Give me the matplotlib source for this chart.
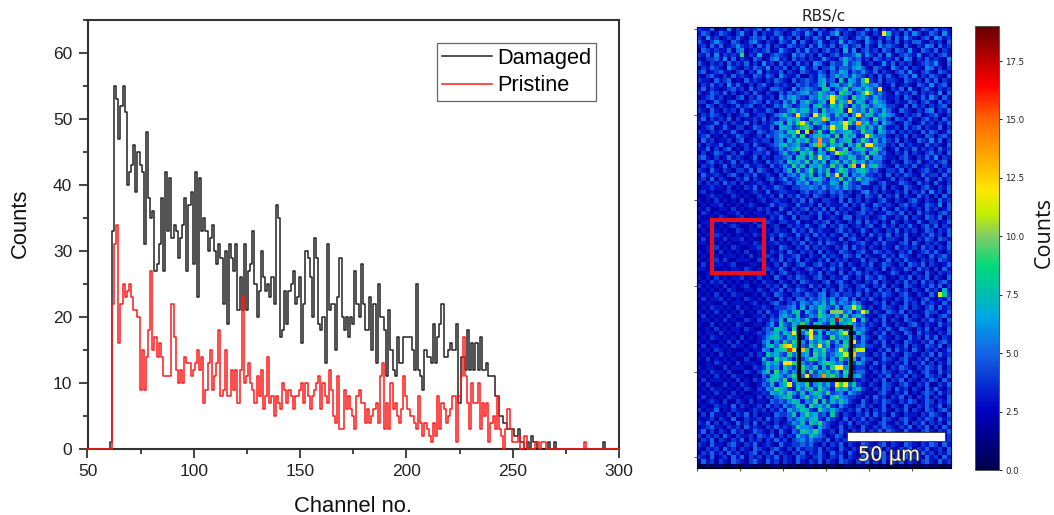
import numpy as np
import matplotlib
matplotlib.use("Agg")
import matplotlib.pyplot as plt
import matplotlib.patheffects as pe
from matplotlib.colors import LinearSegmentedColormap
from matplotlib.patches import Rectangle

FIRST_CHANNEL = 50
damaged_counts = [0]*11 + [1] + [
    33,55,53,47,52,55,51,40,42,43, 46,39,45,43,42,31,48,38,35,36,
    27,28,31,38,27,42,33,41,32,34, 33,29,32,34,38,27,37,39,28,42,
    23,41,33,35,33,30,32,34,30,28, 31,29,22,30,19,31,29,27,31,21,
    26,21,31,21,27,28,33,25,20,24, 30,26,
    24,25,23,26,22,37,35,17,18,24, 19,24,25,27,22,23,26,16,22,30,
    29,26,20,32,29,19,18,20,13,31, 21,22,22,15,23,29,20,18,20,17,
    20,19,27,22,20,28,22,18,18,23, 15,22,13,25,20,20,18,11,21,15,
    12,11,17,13,13,17,17,17,17,15, 12,25,12,11,9,15,14,14,13,19,
    13,17,19,22,14,14,15,16,15,15, 19,7,14,14,12,18,12,16,12,16,
    12,17,12,12,13,11,11,11,8,8, 5,5,4,4,3,3,3,2,2,3,
    1,1,0,1,0,2,1,1,0,0, 0,0,0,1,0,0,1] + [0]*22 + [1] + [0]*7
pristine_counts = [0]*12 + [
    22,31,34,16,22,25,23,24,25,23, 21,21,20,9,15,9,14,18,27,15,
    17,14,16,14,11,11,11,11,22,17, 12,10,12,10,14,13,13,11,12,13,
    15,12,14,7,9,13,15,9,11,13, 18,8,9,15,8,8,12,9,12,7,
    12,23,10,11,13,10,9,7,11,8, 12,6,
    8,14,7,8,5,8,7,6,10,9, 7,9,8,6,8,8,9,10,7,10,
    8,6,8,9,10,11,6,10,8,7, 12,9,5,4,11,3,3,9,6,8,
    6,5,3,8,9,7,7,4,6,4, 5,6,7,4,11,13,3,7,3,10,
    6,7,5,4,6,11,8,6,5,5, 4,3,8,4,2,4,3,2,1,4,
    2,8,3,7,6,4,5,6,8,8, 1,8,11,17,11,7,3,10,7,7,
    10,3,7,5,7,1,4,5,3,8, 3,2,0,3,6,3,1,1,1,2,
    0,0,2,0,0,0,0,1,1,0, 1,1] + [0]*18 + [1] + [0]*16
series_labels = ["Damaged", "Pristine"]
x_ticks = [50, 100, 150, 200, 250, 300]
y_ticks = [0, 10, 20, 30, 40, 50, 60]
cbar_ticks = [0, 2.5, 5, 7.5, 10, 12.5, 15, 17.5]

# Estimated per-pixel counts of the RBS/c map, base-36 digit per cell
map_rows = """
43351 32624 24345 26343 42354 42634 23543 54236 35243 42526 23543 5343
35423 54324 63252 43354 23543 64253 35724 32453 24357 34253 64235 4263
42634 23435 32454 52436 34252 43542 62354 23546 32435 25364 32452 6534
53246 43254 23563 24325 43625 32463 24373 54326 43524 35243 55324 3425
34253 52346 43425 35243 25434 25364 35246 34525 32645 43253 24365 2534
25434 33525 62343 45236 43253 63424 53427 36245 34254 25436 32543 5243
43526 24343 52437 32454 32645 34253 24534 45736 43526 32454 36234 2453
32445 36252 43254 23563 42534 24336 43257 54534 25434 35265 24353 4326
53243 42534 35242 63425 34253 42653 25447 45623 42363 52434 23454 6325
24354 32643 24354 36243 52436 33524 46355 46753 25432 64352 43265 3424
45234 53324 52436 24335 24325 43354 25476 35464 35243 24536 32453 2543
32453 24253 43254 35426 43352 24365 35756 47543 42535 32453 62435 4325
43325 34523 25343 24354 32534 54367 45283 76485 43524 43254 34253 5243
24353 42635 32424 53243 43254 53468 36745 85476 56423 52343 25436 3452
35243 23453 42534 32554 32635 65438 73569 46758 64532 43526 32453 2434
42354 35242 34253 24325 35456 74586 56397 63584 74643 25343 52434 3625
23453 42324 52435 33426 46754 36586 74865 39675 47543 34254 23536 4253
44235 32453 23454 25343 64736 85467 37586 94763 58653 24335 42453 2534
32542 43235 34523 42354 75346 63785 48695 37586 46764 43252 53424 3452
43253 24342 53243 35424 46857 74638 56783 96574 85475 32543 24356 2435
24354 32423 45234 42356 85476 53769 64857 36958 74686 53243 45234 5324
35243 43524 23343 52435 57684 38675 94563 78465 39564 25435 32453 4253
42335 24243 35242 43467 38596 74865 37684 95768 46375 42354 23534 2435
23452 35324 42354 33527 76458 96347 58769 43685 74853 34253 45243 3524
43243 42353 24325 43456 48763 67594 38567 85496 63764 52434 32535 4235
34523 24235 43234 25457 65849 35786 74938 67345 85553 24352 43254 2453
25342 33424 52343 44256 37586 84675 59467 83596 47464 35243 25436 3524
42433 52342 34253 23457 85674 36958 47683 75948 36553 42534 33253 4325
33524 24523 24335 42346 46795 75384 86459 36785 59642 35243 52434 2534
24235 43242 53244 35235 74538 69476 35798 64573 87453 24352 43245 3425
45324 23534 32352 43244 56387 48596 74365 87459 36643 32453 24353 6243
32453 42352 43243 25345 38675 94758 36847 59674 65532 43254 35234 3452
24342 35243 25334 32534 64958 37685 49573 86345 78543 25343 52343 5243
43253 24324 43525 43243 57384 69475 83697 45786 45324 43524 23453 2435
25334 32453 24352 34325 35647 58364 95748 36574 43425 24354 32534 4253
34252 43224 35243 24534 63457 46875 36594 74856 54323 52432 43253 2534
42434 25342 42334 32423 45365 73564 47638 54366 32453 23543 25342 5324
23343 32423 24352 43354 32445 56546 45647 54533 24352 43254 32453 2435
34232 23432 32343 25234 43324 53454 35453 42356 34243 24352 43526 3425
22343 32243 23224 33425 24353 42543 24354 32425 43524 35243 25342 4253
32324 23232 42323 42343 32435 25324 43252 53424 32453 24324 53243 2534
23233 42323 23432 23534 43253 34252 43335 24353 25434 32453 42354 3625
32422 33242 32324 34225 32434 52435 25243 43254 34253 25342 34253 4235
24323 22334 23233 24343 25343 24353 42534 23453 42335 43524 25343 2453
32232 43223 42323 32435 32524 43252 34325 52434 23453 24352 43254 3524
23323 24232 33242 24324 43352 32434 52432 43525 34242 53243 25324 4235
42322 32343 22324 32342 24343 53245 24354 23424 52353 42435 32453 5243
23233 23224 32332 43243 32534 25343 32453 42353 24324 35243 42354 2435
32324 32323 23243 23435 43253 42534 24325 34242 53435 24352 32435 3425
24223 24233 42322 32524 24342 53243 43252 45324 32524 43253 24354 2543
33242 32322 33243 23343 32435 24352 54324 23453 24353 32452 53243 4325
22324 23243 22334 42325 43243 52434 32435 25342 43243 25343 42534 2435
32332 42323 24223 32434 25324 34252 43254 32453 25434 32435 23453 5324
23243 23332 32423 24325 33453 24325 34325 43524 32353 42543 24325 3453
32324 24223 33224 32435 24352 43243 52434 23352 44235 24353 32434 2543
24233 32342 22332 43242 53245 32453 24352 43243 52354 32425 43524 3235
33222 23233 24323 24335 32432 45324 35243 25324 43252 43354 25342 4253
22343 32324 32243 32424 53243 24352 43252 43534 24323 54232 43253 2434
32324 23233 42324 23253 24354 32453 24335 32425 43542 32435 24352 4325
23243 42323 23232 43324 32425 43324 52453 24324 35243 24353 42534 2453
42323 24232 34223 24342 53243 25342 43254 32453 24352 43254 32435 3524
23232 32432 23324 32435 24354 32425 34253 42435 32534 25342 43253 4273
32324 23243 32232 43254 32443 54356 24534 43524 24354 32453 24325 3284
24233 42323 24323 24325 34255 35456 46356 35243 53243 24354 32453 2435
32322 24233 32342 32453 24536 54657 47465 47532 24352 43253 42534 3253
23243 32324 23233 43244 45637 36587 54736 64843 42354 32452 43245 2534
32324 23232 42324 25335 64783 75496 38675 73568 24325 43524 32354 4235
24232 32423 32233 42436 75483 46597 65849 46753 32453 24352 43253 2453
23323 24232 24324 33547 38675 84367 57496 75384 24352 43254 32435 3425
32242 32324 32233 24638 54769 63785 48367 96453 43253 24324 53243 2534
22324 23233 24322 45487 63958 47675 38594 67564 32435 32543 24352 4325
32332 42323 23234 35674 86375 96483 75698 43753 24352 43254 25343 2435
23243 23232 42323 46785 47693 58674 39576 86364 32543 24325 34253 5243
32322 32424 23223 57364 85976 37586 94738 65463 24352 43254 32435 2453
24233 23243 32342 47859 63785 49675 83569 74564 43253 24352 43254 3524
32324 32322 23233 65378 97456 83769 54687 38653 32435 25342 53243 4235
23232 42323 32424 38675 49586 73968 45783 96553 24352 43254 32435 2534
32423 23232 24223 74396 85374 69857 36495 78364 42354 32453 24352 4325
22324 32324 23332 58674 73986 45368 97563 84753 25343 24352 43524 2435
32332 24233 32243 47563 86479 65837 49586 73442 43252 43543 24354 3524
23243 32422 24324 68395 74658 39476 85739 64553 24354 32435 32453 2534
32324 23243 32232 53786 46975 84563 79648 36742 32435 24352 43254 3425
24233 32324 23243 46875 93687 56749 38567 84343 24352 43524 32435 4253
32422 24232 43223 54736 85476 93685 74396 58432 43254 32453 24352 2435
23243 32323 24324 36597 64385 78496 53867 46743 24354 25342 43253 5324
32324 23242 32233 43768 59647 36875 94563 75432 32453 24352 32454 2534
24232 32433 23324 24356 78436 95684 37965 44324 25342 43524 24352 4325
32343 24224 32423 32545 46873 65938 47586 43253 24354 32435 42354 2435
23224 33252 43234 25343 64587 39675 84364 32453 42352 43253 24353 3524
42335 23243 32343 42435 37568 74396 57543 43524 24353 24352 43254 2453
24253 32424 35242 33254 45836 96745 38424 32435 25342 53243 32435 4325
32342 43252 24334 25343 25467 57843 64325 24352 43254 32453 24354 2534
43524 24325 34252 43242 34657 38695 43243 52434 32453 24352 43524 3425
23453 32434 25343 24353 43486 65375 42352 43253 24354 32435 24352 4253
35242 43253 42354 32425 32548 76963 34253 24352 43525 43253 32453 2435
42434 25324 33425 43524 24375 48654 23542 43254 32435 24352 43254 5324
24352 43243 52434 24353 42456 46443 52434 25342 53243 62435 32453 2534
43253 32453 24352 34325 33445 45324 24352 43254 32452 43254 32435 4253
32434 25342 43254 32453 24253 44352 43253 24352 43524 32435 24352 3425
24353 42534 23452 43524 32435 24353 25342 53243 24352 43254 32534 2435
43252 34253 52434 24352 43254 32453 24352 43254 32453 24352 43253 4253
25342 43254 32453 25342 43253 24352 43254 32435 24352 43524 32453 2534
00101 10010 01101 00110 10100 11010 01001 10110 01010 10101 00110 1001
""".split("\n")
hot_cols = [43,10,31,31,42,39,39,35,35,27,23,29,37,34,34,37,31,24,23,25,26,39,28,28,39,40,31,32,28,36,38,32,
            56,31,32,33,38,36,32,36,22,26,26,26,34,36,20,21,22,21,28,24,33,37,38,36,34,20,21,32,33,21,32,34,29,25]
hot_rows = [1,6,16,17,14,12,15,17,19,20,20,21,20,22,23,22,23,22,24,24,24,25,26,27,27,27,28,29,30,32,32,34,
            62,66,66,66,66,65,68,68,71,70,71,72,71,73,74,75,75,74,74,75,75,75,75,76,76,78,78,79,79,83,83,83,81,81]
hot_vals = [12,9,12,12,12,11,12,13,12,12,12,13,12,12,11,13,12,11,11,11,19,12,14,14,12,12,11,11,11,13,12,12,
            11,10,10,10,12,11,17,12,12,12,12,12,11,12,13,16,12,12,12,13,12,11,11,13,11,12,12,12,12,12,12,12,14,12]

W, H = 1054, 515
plt.rcParams['font.family'] = ['Liberation Sans', 'DejaVu Sans']
fig = plt.figure(figsize=(W/100, H/100), dpi=100, facecolor='white')

def axes_px(x0, y0, x1, y1):
    return fig.add_axes([x0/W, 1-y1/H, (x1-x0)/W, (y1-y0)/H])

# ----- spectrum -----
ax = axes_px(87.5, 20, 619, 449)
channels = FIRST_CHANNEL + np.arange(len(damaged_counts))
ax.step(channels, damaged_counts, where='mid', color='#222222', lw=1.1, label=series_labels[0], clip_on=False, zorder=3)
ax.step(channels[:len(pristine_counts)], pristine_counts, where='mid', color='#ff1a1a', lw=1.1,
        label=series_labels[1], clip_on=False, zorder=4)
ax.set_xlim(50, 300)
ax.set_ylim(0, 65)
ax.set_xticks(x_ticks)
ax.set_yticks(y_ticks)
ax.set_xticks(np.array(x_ticks[:-1]) + 25, minor=True)
ax.set_yticks(np.array(y_ticks) + 5, minor=True)
ax.tick_params(which='major', length=6.5, width=1.2, labelsize=12.5, pad=4.5, colors='#222222')
ax.tick_params(which='minor', length=3.4, width=1.2, colors='#222222')
for s in ax.spines.values():
    s.set_linewidth(1.5)
    s.set_color('#333333')
ax.set_xlabel("Channel no.", fontsize=15.8, color='#111111', labelpad=12)
ax.set_ylabel("Counts", fontsize=15.8, color='#111111', va='center')
ax.yaxis.set_label_coords((20-87.5)/531.5, (449-223)/429)
leg = ax.legend(loc='upper left', bbox_to_anchor=((437-87.5)/531.5, 1-(43-20)/429), fontsize=15.7, frameon=True,
                fancybox=False, framealpha=1, edgecolor='#666666', borderaxespad=0, handlelength=2.3,
                handletextpad=0.25, labelspacing=0.3, borderpad=0.22)
leg.get_frame().set_linewidth(0.9)
leg.set_zorder(6)

# ----- map -----
anchors = [(0, '#00004d'), (2.5, '#0000c0'), (5, '#1464e6'), (6.5, '#00a5e6'), (7.5, '#00bdb0'), (8.7, '#00d97a'),
           (10, '#80cc66'), (11, '#c4ef00'), (12, '#ffe600'), (13.5, '#ffa600'), (15, '#ff6600'),
           (16.5, '#ff0000'), (19, '#660000')]
cmap = LinearSegmentedColormap.from_list('rbs', [(v/19, c) for v, c in anchors])
grid = np.array([[int(ch, 36) for ch in r.replace(' ', '').ljust(59, '2')[:59]]
                 for r in map_rows if r.strip()], dtype=float)
grid[hot_rows, hot_cols] = hot_vals
axm = axes_px(697, 27, 951, 468)
im = axm.imshow(grid, cmap=cmap, vmin=0, vmax=19, aspect='auto', interpolation='nearest')
axm.set_xticks(np.arange(-0.5, 59, 10))
axm.set_yticks(np.arange(0, 102, 20))
axm.tick_params(length=2, width=0.6, labelbottom=False, labelleft=False, color='#333333')
for s in axm.spines.values():
    s.set_linewidth(0.8)
axm.set_title("RBS/c", fontsize=11, family='DejaVu Sans', pad=4, color='#222222')

def px_to_data(px, py):
    return axm.transData.inverted().transform(((px), H-py))

def box(x0, y0, x1, y1, **kw):
    (a, b), (c, d) = px_to_data(x0, y0), px_to_data(x1, y1)
    axm.add_patch(Rectangle((a, b), c-a, d-b, **kw))

box(711.5, 219.5, 764, 273, fill=False, edgecolor='#e8101c', lw=3)
box(798.5, 327, 850.5, 380, fill=False, edgecolor='#0a0a0a', lw=3)
box(847, 432, 945, 440.5, facecolor='white', edgecolor='#222222', lw=0.5)
tx, ty = px_to_data(889, 455)
axm.text(tx, ty, "50 µm", color='white', fontsize=14, family='DejaVu Sans', ha='center', va='center',
         path_effects=[pe.withStroke(linewidth=1.5, foreground='#333333')])

# ----- colour bar -----
cax = axes_px(975, 26, 999, 470)
cb = fig.colorbar(im, cax=cax)
cb.set_ticks(cbar_ticks)
cb.set_ticklabels([f"{t:.1f}" for t in cbar_ticks])
cb.ax.tick_params(labelsize=6.2, length=2.5, width=0.6, pad=2, labelcolor='#222222')
for lab in cb.ax.get_yticklabels():
    lab.set_family('DejaVu Sans')
cb.outline.set_linewidth(0.7)
cb.outline.set_edgecolor('#555555')
fig.text(1044/W, 1-232/H, "Counts", rotation=90, fontsize=15.5, family='Open Sans', ha='center', va='center', color='#111111')

fig.savefig("out.png", dpi=100)
